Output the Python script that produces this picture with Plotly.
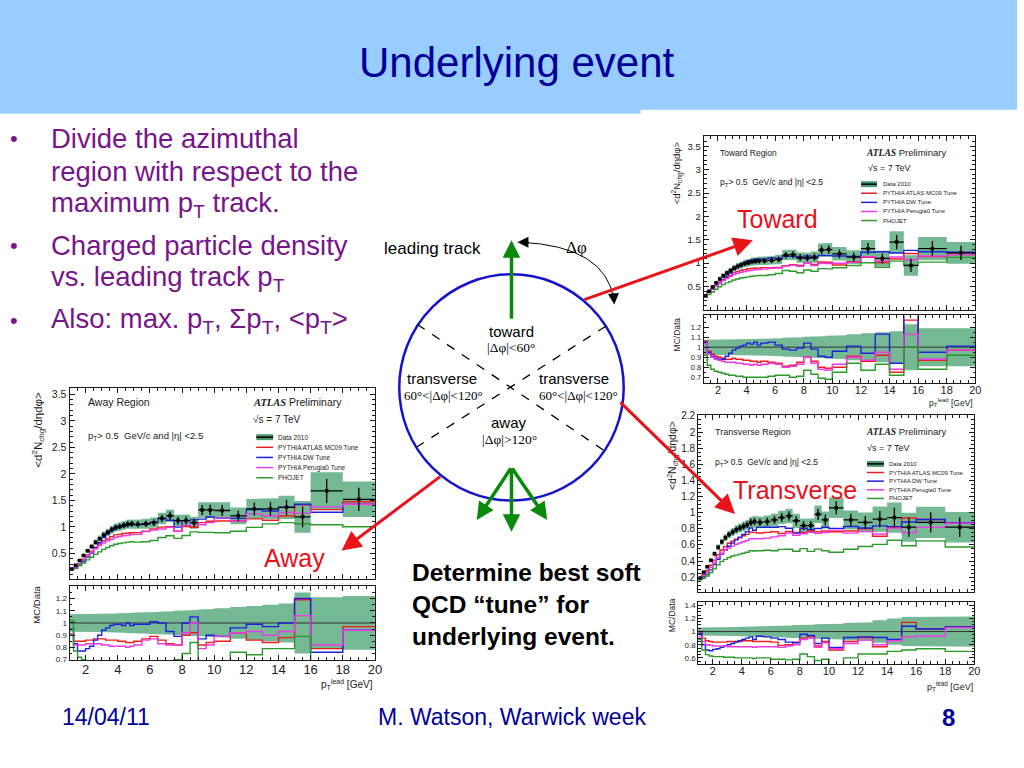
import plotly.graph_objects as go

W, H = 1024, 768
SANS = "Liberation Sans, Arial, Helvetica, sans-serif"
SERIF = "Liberation Serif, Times New Roman, serif"
NAVY = "#000099"
PURPLE = "#76168a"
RED_TXT = "#e8101a"
INK = "#1a1a1a"

# ---------------- data ----------------
EDGES = [1.0, 1.25, 1.5, 1.75, 2.0, 2.25, 2.5, 2.75, 3.0, 3.25, 3.5, 3.75, 4.0, 4.25, 4.5, 4.75,
         5.0, 5.5, 6.0, 6.5, 7.0, 7.5, 8.0, 8.5, 9.0, 9.5, 10, 11, 12, 13, 14, 15, 16, 18, 20]
X_TICKS = [2, 4, 6, 8, 10, 12, 14, 16, 18, 20]
LEGEND_LABELS = ["Data 2010", "PYTHIA ATLAS MC09 Tune", "PYTHIA DW Tune", "PYTHIA Perugia0 Tune", "PHOJET"]

# Toward region
TOWARD_DATA = [0.30, 0.40, 0.49, 0.58, 0.66, 0.73, 0.79, 0.84, 0.89, 0.93, 0.96, 0.99, 1.01, 1.03, 1.04, 1.05,
               1.05, 1.06, 1.08, 1.17, 1.18, 1.12, 1.11, 1.13,
               1.28, 1.29, 1.20, 1.13, 1.31, 1.10, 1.45, 0.95, 1.31, 1.22]
TOWARD_ERR = [0.075, 0.075, 0.075, 0.075, 0.075, 0.075, 0.075, 0.075, 0.076, 0.077, 0.078, 0.079, 0.080, 0.081, 0.082, 0.083,
              0.085, 0.088, 0.090, 0.093, 0.096, 0.100, 0.103, 0.106,
              0.110, 0.113, 0.120, 0.130, 0.140, 0.150, 0.160, 0.230, 0.190, 0.190]
TOWARD_MC09 = [1.06, 0.96, 0.93, 0.91, 0.90, 0.89, 0.88, 0.88, 0.89, 0.88, 0.88, 0.87, 0.87, 0.86, 0.86, 0.85,
               0.86, 0.85, 0.84, 0.81, 0.82, 0.85, 0.90, 0.86,
               0.80, 0.79, 0.80, 0.91, 0.86, 0.92, 0.75, 1.27, 0.87, 0.97]
TOWARD_DW = [1.05, 0.95, 0.91, 0.89, 0.88, 0.88, 0.91, 0.94, 0.97, 0.99, 1.01, 1.02, 1.04, 1.03, 1.05, 1.02,
             1.04, 1.05, 1.02, 0.98, 0.97, 0.99, 1.04, 0.98,
             0.91, 0.90, 0.96, 1.01, 0.94, 1.13, 0.84, 1.34, 0.95, 1.01]
TOWARD_PERUGIA0 = [1.04, 0.93, 0.90, 0.88, 0.87, 0.86, 0.85, 0.85, 0.85, 0.84, 0.84, 0.83, 0.83, 0.82, 0.83, 0.82,
                   0.83, 0.84, 0.83, 0.80, 0.81, 0.83, 0.90, 0.84,
                   0.78, 0.77, 0.83, 0.90, 0.87, 0.95, 0.78, 1.13, 0.88, 0.97]
TOWARD_PHOJET = [0.92, 0.82, 0.78, 0.76, 0.75, 0.74, 0.73, 0.72, 0.72, 0.71, 0.71, 0.70, 0.70, 0.70, 0.70, 0.70,
                 0.70, 0.71, 0.72, 0.72, 0.70, 0.71, 0.77, 0.73,
                 0.69, 0.68, 0.75, 0.84, 0.77, 0.83, 0.72, 1.00, 0.78, 0.92]

# Away region
AWAY_DATA = [0.21, 0.28, 0.37, 0.46, 0.55, 0.63, 0.71, 0.78, 0.85, 0.90, 0.95, 0.99, 1.01, 1.03, 1.05, 1.06,
             1.05, 1.06, 1.08, 1.16, 1.21, 1.12, 1.12, 1.08,
             1.32, 1.32, 1.31, 1.21, 1.34, 1.34, 1.37, 1.19, 1.68, 1.52]
AWAY_ERR = [0.072, 0.072, 0.072, 0.072, 0.072, 0.072, 0.073, 0.074, 0.075, 0.076, 0.077, 0.078, 0.079, 0.080, 0.082, 0.084,
            0.086, 0.088, 0.090, 0.093, 0.096, 0.100, 0.103, 0.106,
            0.110, 0.115, 0.120, 0.130, 0.140, 0.150, 0.160, 0.250, 0.210, 0.220]
AWAY_MC09 = [0.91, 0.85, 0.85, 0.85, 0.86, 0.86, 0.87, 0.87, 0.87, 0.86, 0.86, 0.86, 0.85, 0.85, 0.84, 0.84,
             0.85, 0.87, 0.89, 0.86, 0.83, 0.82, 0.90, 0.92,
             0.82, 0.84, 0.85, 0.92, 0.86, 0.84, 0.88, 1.19, 0.79, 0.97]
AWAY_DW = [0.95, 0.83, 0.77, 0.77, 0.79, 0.81, 0.86, 0.90, 0.94, 0.96, 0.98, 0.99, 0.99, 0.98, 1.00, 0.98,
           0.99, 0.99, 1.01, 1.00, 0.93, 0.89, 1.00, 1.05,
           0.87, 0.90, 0.89, 0.96, 0.99, 0.97, 1.00, 1.20, 0.76, 0.94]
AWAY_PERUGIA0 = [0.91, 0.82, 0.82, 0.82, 0.83, 0.83, 0.83, 0.83, 0.82, 0.82, 0.81, 0.81, 0.81, 0.81, 0.80, 0.81,
                 0.82, 0.86, 0.87, 0.83, 0.82, 0.82, 0.92, 1.00,
                 0.79, 0.82, 0.89, 0.92, 0.93, 0.90, 0.93, 1.06, 0.82, 0.94]
AWAY_PHOJET = [1.02, 0.77, 0.72, 0.70, 0.69, 0.68, 0.68, 0.68, 0.68, 0.68, 0.68, 0.68, 0.68, 0.68, 0.68, 0.68,
               0.68, 0.68, 0.69, 0.69, 0.69, 0.70, 0.75, 0.84,
               0.68, 0.68, 0.68, 0.76, 0.74, 0.79, 0.79, 0.89, 0.62, 0.66]

# Transverse region
TRANS_DATA = [0.19, 0.26, 0.33, 0.41, 0.49, 0.57, 0.64, 0.69, 0.73, 0.76, 0.79, 0.81, 0.83, 0.85, 0.88, 0.89,
              0.88, 0.89, 0.91, 0.94, 0.96, 0.90, 0.84, 0.84,
              0.98, 0.91, 1.06, 0.91, 0.88, 0.92, 0.94, 0.82, 0.88, 0.82]
TRANS_ERR = [0.060, 0.060, 0.060, 0.060, 0.060, 0.060, 0.060, 0.062, 0.064, 0.066, 0.068, 0.070, 0.072, 0.074, 0.076, 0.078,
             0.080, 0.083, 0.086, 0.090, 0.094, 0.098, 0.100, 0.105,
             0.110, 0.115, 0.120, 0.130, 0.140, 0.170, 0.200, 0.220, 0.220, 0.230]
TRANS_MC09 = [1.00, 0.90, 0.86, 0.85, 0.84, 0.84, 0.84, 0.84, 0.85, 0.85, 0.85, 0.85, 0.86, 0.86, 0.86, 0.85,
              0.85, 0.85, 0.84, 0.79, 0.80, 0.84, 0.90, 0.92,
              0.78, 0.85, 0.72, 0.85, 0.91, 0.77, 0.87, 1.14, 1.04, 1.07]
TRANS_DW = [0.97, 0.80, 0.72, 0.71, 0.73, 0.74, 0.76, 0.78, 0.80, 0.82, 0.84, 0.86, 0.88, 0.90, 0.92, 0.88,
            0.93, 0.92, 0.90, 0.88, 0.84, 0.83, 0.96, 0.94,
            0.82, 0.90, 0.76, 0.91, 0.92, 0.91, 0.88, 1.08, 1.04, 1.07]
TRANS_PERUGIA0 = [0.92, 0.85, 0.80, 0.79, 0.78, 0.78, 0.78, 0.78, 0.77, 0.77, 0.77, 0.77, 0.77, 0.77, 0.77, 0.76,
                  0.77, 0.77, 0.77, 0.76, 0.78, 0.80, 0.88, 0.90,
                  0.76, 0.83, 0.74, 0.82, 0.87, 0.80, 0.86, 0.92, 0.93, 1.06]
TRANS_PHOJET = [0.88, 0.72, 0.65, 0.63, 0.62, 0.62, 0.62, 0.61, 0.61, 0.61, 0.60, 0.60, 0.60, 0.60, 0.60, 0.59,
                0.60, 0.60, 0.58, 0.58, 0.57, 0.58, 0.66, 0.62,
                0.56, 0.58, 0.48, 0.60, 0.66, 0.66, 0.70, 0.72, 0.74, 0.70]

TOWARD_YTICKS = [0.5, 1, 1.5, 2, 2.5, 3, 3.5]
AWAY_YTICKS = [0.5, 1, 1.5, 2, 2.5, 3, 3.5]
TRANS_YTICKS = [0.2, 0.4, 0.6, 0.8, 1, 1.2, 1.4, 1.6, 1.8, 2, 2.2]
TOWARD_RTICKS = [0.7, 0.8, 0.9, 1, 1.1, 1.2]
AWAY_RTICKS = [0.7, 0.8, 0.9, 1, 1.1, 1.2]
TRANS_RTICKS = [0.6, 0.8, 1, 1.2, 1.4]

# ---------------- styling ----------------
MC_COLORS = ["#ee1c1c", "#1a22dd", "#ec3ae6", "#2a9a2a"]
BAND_COLOR = "#74b894"
BAND_DARK = "#4e9870"


def fx(p):
    return p / W


def fy(p):
    return 1 - p / H


def sfx(i):
    return "" if i == 1 else str(i)


REGIONS = [
    dict(data=TOWARD_DATA, err=TOWARD_ERR, mc=[TOWARD_MC09, TOWARD_DW, TOWARD_PERUGIA0, TOWARD_PHOJET],
         xl=708.5, xr=982, mt=133, mb=308.5, rt=314, rb=382,
         yr=[0.0, 3.71], yt=TOWARD_YTICKS, ymin=0.1, rr=[0.647, 1.318], rt_=TOWARD_RTICKS, rmin=0.05,
         yfs=9.5, rfs=7.5, xfs=11,
         label="Toward Region", lab_xy=(723, 150), lab_fs=8.5,
         atlas_xy=(870, 149), atlas_fs=9.5, rs_xy=(872, 165), rs_fs=9,
         cut_xy=(723, 180), cut_fs=8.5,
         leg_x=(867, 883, 887), leg_y=181.3, leg_dy=9.2, leg_fs=6,
         ytit_xy=(682, 170), ytit_fs=9.5, rtit_xy=(682, 333), rtit_fs=8.5,
         xtit_xy=(982, 402), xtit_fs=8.5),
    dict(data=AWAY_DATA, err=AWAY_ERR, mc=[AWAY_MC09, AWAY_DW, AWAY_PERUGIA0, AWAY_PHOJET],
         xl=70, xr=377.5, mt=388, mb=580.5, rt=588, rb=663,
         yr=[0.025, 3.61], yt=AWAY_YTICKS, ymin=0.1, rr=[0.695, 1.302], rt_=AWAY_RTICKS, rmin=0.05,
         yfs=10.5, rfs=8, xfs=13,
         label="Away Region", lab_xy=(87, 402), lab_fs=10.5,
         atlas_xy=(253, 402), atlas_fs=10.5, rs_xy=(253, 419), rs_fs=10,
         cut_xy=(87, 436), cut_fs=9.5,
         leg_x=(258, 275, 278), leg_y=437.3, leg_dy=10.25, leg_fs=6.5,
         ytit_xy=(38, 430), ytit_fs=11.5, rtit_xy=(37, 607), rtit_fs=9.5,
         xtit_xy=(378, 688), xtit_fs=10),
    dict(data=TRANS_DATA, err=TRANS_ERR, mc=[TRANS_MC09, TRANS_DW, TRANS_PERUGIA0, TRANS_PHOJET],
         xl=703, xr=981, mt=415, mb=594, rt=604, rb=667,
         yr=[0.016, 2.21], yt=TRANS_YTICKS, ymin=0.05, rr=[0.505, 1.45], rt_=TRANS_RTICKS, rmin=0.05,
         yfs=10, rfs=8, xfs=11,
         label="Transverse Region", lab_xy=(718, 432), lab_fs=9,
         atlas_xy=(870, 432), atlas_fs=9.5, rs_xy=(871, 448), rs_fs=9,
         cut_xy=(718, 463), cut_fs=8.5,
         leg_x=(873, 890, 893), leg_y=464.3, leg_dy=8.75, leg_fs=6,
         ytit_xy=(677, 456), ytit_fs=10.5, rtit_xy=(676, 617), rtit_fs=8.5,
         xtit_xy=(982, 690), xtit_fs=9),
]

NB = len(EDGES) - 1
CENTERS = [(EDGES[i] + EDGES[i + 1]) / 2 for i in range(NB)]
HALFW = [(EDGES[i + 1] - EDGES[i]) / 2 for i in range(NB)]


def steps(vals):
    return list(EDGES), list(vals) + [vals[-1]]


def band(lo, hi):
    xs, ys = [], []
    for i in range(NB):
        xs += [EDGES[i], EDGES[i + 1]]
        ys += [hi[i], hi[i]]
    for i in reversed(range(NB)):
        xs += [EDGES[i + 1], EDGES[i]]
        ys += [lo[i], lo[i]]
    return xs, ys


fig = go.Figure()
layout_axes = {}
annotations = []
shapes = []


def text(t, x, y, size, color=INK, xa="left", ya="middle", family=SANS, angle=0, align="center"):
    annotations.append(dict(text=t, x=fx(x), y=fy(y), xref="paper", yref="paper", xanchor=xa, yanchor=ya,
                            showarrow=False, font=dict(family=family, size=size, color=color), textangle=angle,
                            align=align))


def arrow(hx, hy, tx, ty, color, width, head=2, size=1.0):
    annotations.append(dict(text="", x=fx(hx), y=fy(hy), xref="paper", yref="paper", ax=tx - hx, ay=ty - hy,
                            axref="pixel", ayref="pixel", showarrow=True, arrowhead=head, arrowsize=size,
                            arrowwidth=width, arrowcolor=color))


def rect(x0, y0, x1, y1, fill, layer="below"):
    shapes.append(dict(type="rect", xref="paper", yref="paper", x0=fx(x0), x1=fx(x1), y0=fy(y1), y1=fy(y0),
                       fillcolor=fill, line=dict(width=0), layer=layer))


def seg(x0, y0, x1, y1, color, width, dash="solid"):
    shapes.append(dict(type="line", xref="paper", yref="paper", x0=fx(x0), y0=fy(y0), x1=fx(x1), y1=fy(y1),
                       line=dict(color=color, width=width, dash=dash)))


def axis_common(fs):
    return dict(showline=True, linecolor=INK, linewidth=1, mirror="allticks", ticks="inside", ticklen=5,
                tickwidth=1, tickcolor=INK, showgrid=False, zeroline=False,
                tickfont=dict(family=SANS, size=fs, color="#222"))


for k, R in enumerate(REGIONS):
    im, ir = 2 * k + 1, 2 * k + 2
    xd = [fx(R["xl"]), fx(R["xr"])]
    data, err = R["data"], R["err"]
    # ---- main panel ----
    xm, ym = "x" + sfx(im), "y" + sfx(im)
    lo = [d * (1 - e) for d, e in zip(data, err)]
    hi = [d * (1 + e) for d, e in zip(data, err)]
    bx, by = band(lo, hi)
    fig.add_trace(go.Scatter(x=bx, y=by, fill="toself", fillcolor=BAND_COLOR, line=dict(width=0),
                             mode="lines", xaxis=xm, yaxis=ym, showlegend=False, hoverinfo="skip"))
    for ratio, col in zip(R["mc"], MC_COLORS):
        vals = [d * r for d, r in zip(data, ratio)]
        sx, sy = steps(vals)
        fig.add_trace(go.Scatter(x=sx, y=sy, mode="lines", line=dict(color=col, width=1.4, shape="hv"),
                                 xaxis=xm, yaxis=ym, showlegend=False))
    stat = [d * e * 0.65 for d, e in zip(data, err)]
    fig.add_trace(go.Scatter(x=CENTERS, y=data, mode="markers",
                             marker=dict(symbol="square", size=3.5, color="black"),
                             error_x=dict(type="data", array=HALFW, thickness=1.3, width=0, color="black"),
                             error_y=dict(type="data", array=stat, thickness=1.3, width=0, color="black"),
                             xaxis=xm, yaxis=ym, showlegend=False))
    layout_axes["xaxis" + sfx(im)] = dict(domain=xd, anchor=ym, range=[EDGES[0], EDGES[-1]], tickvals=X_TICKS,
                                          showticklabels=False,
                                          minor=dict(ticks="inside", ticklen=3, dtick=0.5, tickcolor=INK),
                                          **axis_common(R["xfs"]))
    layout_axes["yaxis" + sfx(im)] = dict(domain=[fy(R["mb"]), fy(R["mt"])], anchor=xm, range=R["yr"],
                                          tickvals=R["yt"],
                                          minor=dict(ticks="inside", ticklen=3, dtick=R["ymin"], tickcolor=INK),
                                          **axis_common(R["yfs"]))
    # ---- ratio panel ----
    xr_, yr_ = "x" + sfx(ir), "y" + sfx(ir)
    bx, by = band([1 - e for e in err], [1 + e for e in err])
    fig.add_trace(go.Scatter(x=bx, y=by, fill="toself", fillcolor=BAND_COLOR, line=dict(width=0),
                             mode="lines", xaxis=xr_, yaxis=yr_, showlegend=False, hoverinfo="skip"))
    fig.add_trace(go.Scatter(x=[EDGES[0], EDGES[-1]], y=[1, 1], mode="lines", line=dict(color="#333", width=1),
                             xaxis=xr_, yaxis=yr_, showlegend=False))
    for ratio, col in zip(R["mc"], MC_COLORS):
        sx, sy = steps(ratio)
        fig.add_trace(go.Scatter(x=sx, y=sy, mode="lines", line=dict(color=col, width=1.4, shape="hv"),
                                 xaxis=xr_, yaxis=yr_, showlegend=False))
    layout_axes["xaxis" + sfx(ir)] = dict(domain=xd, anchor=yr_, range=[EDGES[0], EDGES[-1]], tickvals=X_TICKS,
                                          ticklabelstandoff=-3,
                                          minor=dict(ticks="inside", ticklen=3, dtick=0.5, tickcolor=INK),
                                          **axis_common(R["xfs"]))
    layout_axes["yaxis" + sfx(ir)] = dict(domain=[fy(R["rb"]), fy(R["rt"])], anchor=xr_, range=R["rr"],
                                          tickvals=R["rt_"],
                                          minor=dict(ticks="inside", ticklen=2.5, dtick=R["rmin"], tickcolor=INK),
                                          **axis_common(R["rfs"]))
    # ---- texts in the panel ----
    text(R["label"], *R["lab_xy"], R["lab_fs"])
    text("<span style='font-family:Liberation Serif'><b><i>ATLAS</i></b></span> Preliminary",
         *R["atlas_xy"], R["atlas_fs"])
    text("√s = 7 TeV", *R["rs_xy"], R["rs_fs"])
    text("p<sub>T</sub>&gt; 0.5  GeV/c and |η| &lt;2.5", *R["cut_xy"], R["cut_fs"])
    text("&lt;d<sup>2</sup>N<sub>chg</sub>/dηdφ&gt;", *R["ytit_xy"], R["ytit_fs"], xa="center", angle=-90)
    text("MC/Data", *R["rtit_xy"], R["rtit_fs"], xa="center", angle=-90)
    text("p<sub>T</sub><sup>lead</sup> [GeV]", *R["xtit_xy"], R["xtit_fs"], xa="right")
    # ---- legend ----
    lx0, lx1, ltx = R["leg_x"]
    for j, lab in enumerate(LEGEND_LABELS):
        yy = R["leg_y"] + j * R["leg_dy"]
        if j == 0:
            rect(lx0, yy - 3, lx1, yy + 3, BAND_DARK, layer="above")
            seg(lx0, yy, lx1, yy, "black", 1.5)
        else:
            seg(lx0, yy, lx1, yy, MC_COLORS[j - 1], 1.5)
        text(lab, ltx, yy, R["leg_fs"])

# ---------------- slide decoration ----------------
rect(0, -10, 1024, 110, "#99ccff")
rect(645, 106, 1024, 111, "white")

text("Underlying event", 521, 58, 42, color=NAVY, xa="center")

BULLETS = [(135, True, "Divide the azimuthal"),
           (168, False, "region with respect to the"),
           (202, False, "maximum p<sub>T</sub> track."),
           (243, True, "Charged particle density"),
           (277, False, "vs. leading track p<sub>T</sub>"),
           (319, True, "Also: max. p<sub>T</sub>, Σp<sub>T</sub>, &lt;p<sub>T</sub>&gt;")]
for yy, dot, t in BULLETS:
    if dot:
        text("•", 14, yy, 22, color=PURPLE, xa="center")
    text(t, 49, yy, 27.5, color=PURPLE)

text("<b>Determine best soft<br>QCD “tune” for<br>underlying event.</b>", 413, 607, 24.5, color="black",
     align="left")

text("14/04/11", 107, 720, 23, color=NAVY, xa="center")
text("M. Watson, Warwick week", 516, 720, 23, color=NAVY, xa="center")
text("<b>8</b>", 955, 721, 24, color=NAVY, xa="center")

# red region labels and arrows
text("Toward", 783, 217, 25, color=RED_TXT, xa="center")
text("Transverse", 800, 491, 25, color=RED_TXT, xa="center")
text("Away", 297, 560, 25, color=RED_TXT, xa="center")
arrow(758, 238, 588, 298, "#e8141a", 3, head=2, size=1.3)
arrow(740, 515, 624, 402, "#e8141a", 3, head=2, size=1.3)
arrow(344, 552, 444, 477, "#e8141a", 3, head=2, size=1.3)

# azimuthal diagram
shapes.append(dict(type="circle", xref="paper", yref="paper", x0=fx(402), x1=fx(628), y0=fy(501.5), y1=fy(272.5),
                   line=dict(color="#1414cc", width=2.5)))
seg(420, 323, 610, 452, "black", 1.3, dash="dash")
seg(610, 325, 420, 447, "black", 1.3, dash="dash")
GREEN_ARROW = "#0a8a0a"
arrow(515, 238, 515, 318, GREEN_ARROW, 3.5, head=2, size=1.0)
arrow(515, 533, 515, 468, GREEN_ARROW, 3.5, head=2, size=1.0)
arrow(480, 521, 515, 468, GREEN_ARROW, 3.5, head=2, size=1.0)
arrow(551, 521, 515, 468, GREEN_ARROW, 3.5, head=2, size=1.0)
shapes.append(dict(type="path", xref="paper", yref="paper",
                   path=f"M {fx(524)},{fy(240)} Q {fx(610)},{fy(244)} {fx(618)},{fy(298)}",
                   line=dict(color="black", width=1)))
arrow(521, 240, 534, 240, "black", 1, head=2, size=2.2)
arrow(618.5, 303, 617.5, 290, "black", 1, head=2, size=2.2)
text("Δφ", 580, 245, 17, color="black", xa="center", family=SERIF)
text("leading track", 435, 246, 17, color="black", xa="center")
text("toward", 515, 330, 15, color="black", xa="center")
text("|Δφ|&lt;60°", 515, 347, 13.5, color="black", xa="center", family=SERIF)
text("transverse", 445, 378, 15, color="black", xa="center")
text("60°&lt;|Δφ|&lt;120°", 447, 395, 13, color="black", xa="center", family=SERIF)
text("transverse", 578, 378, 15, color="black", xa="center")
text("60°&lt;|Δφ|&lt;120°", 582, 395, 13, color="black", xa="center", family=SERIF)
text("away", 512, 422, 15, color="black", xa="center")
text("|Δφ|&gt;120°", 513, 440, 13.5, color="black", xa="center", family=SERIF)

fig.update_layout(width=W, height=H, margin=dict(l=0, r=0, t=0, b=0), autosize=False,
                  paper_bgcolor="white", plot_bgcolor="white", showlegend=False,
                  annotations=annotations, shapes=shapes, **layout_axes)

fig.write_html("out.html", config={"displayModeBar": False},
               post_script="document.body.style.margin='0';document.body.style.overflow='hidden';")
